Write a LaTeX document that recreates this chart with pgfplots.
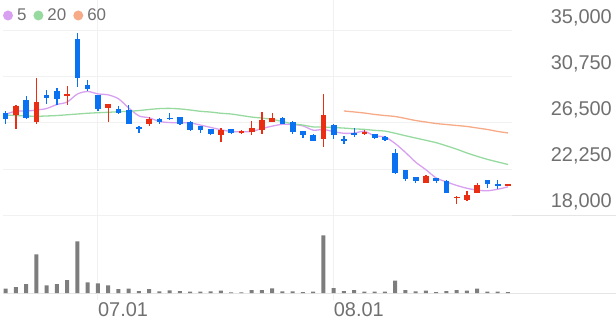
\documentclass[border=0pt]{standalone}
\usepackage{pgfplots}
\pgfplotsset{compat=1.18}
\usepackage{pgfplotstable}
\usepackage{fontspec}
\setmainfont{Liberation Sans}

\definecolor{gridc}{RGB}{241,241,241}
\definecolor{basec}{RGB}{229,229,229}
\definecolor{labelc}{RGB}{112,112,112}
\definecolor{upc}{RGB}{234,46,20}
\definecolor{downc}{RGB}{10,113,240}
\definecolor{volc}{RGB}{125,125,125}
\definecolor{ma5c}{RGB}{216,160,240}
\definecolor{ma20c}{RGB}{150,218,160}
\definecolor{ma60c}{RGB}{246,170,135}

\pgfplotstableread{
i o h l c
1 27250 28150 25900 28050
3 26550 30650 26450 28450
6 29050 29900 28150 29200
10 27850 28250 26550 28250
14 26450 27100 26200 26850
21 25400 26050 24750 25850
23 25600 25850 25450 25750
24 25700 26650 25400 26000
25 25850 27500 25450 26800
26 26600 27400 26600 26950
31 25000 29150 24250 27250
35 25550 25850 25350 25650
41 21000 21650 21000 21600
44 19600 19800 19000 19700
45 19350 20200 19250 19850
46 20050 20950 20000 20750
49 20750 20800 20750 20800
}\upcandles

\pgfplotstableread{
i o h l c
0 27400 27600 26450 26850
2 28650 28950 26850 27000
4 29050 29550 28300 28850
5 29450 29750 28150 28700
7 34250 34800 29850 30700
8 30050 30450 29500 29600
9 29050 29100 27650 27750
11 27800 28050 27300 27400
12 27700 28150 26400 26450
13 26100 26250 25550 25950
15 26850 26950 26400 26550
16 27000 27450 26750 26900
17 27050 27100 26350 26400
18 26600 26700 25800 25850
19 26250 26250 25600 25850
20 25900 25950 25400 25450
22 25900 25950 25450 25550
27 26950 27100 26400 26400
28 26600 26650 25450 25650
29 25800 25800 25150 25350
30 25350 25500 24850 24850
32 26350 26450 25000 25400
33 25050 25300 24600 24900
34 25600 26050 25200 25450
36 25450 25450 25050 25100
37 25200 25300 24850 24950
38 23750 24100 21800 21850
39 22150 22150 21150 21350
40 21550 21550 21000 21150
42 21400 21450 21000 21150
43 21100 21200 20000 20050
47 21250 21250 20500 20850
48 20850 21250 20400 20750
}\downcandles

\pgfplotstableread{
i v
0 27300
1 27600
2 27600
3 27700
4 27840
5 28210
6 28440
7 29180
8 29410
9 29190
10 29100
11 28740
12 27890
13 27160
14 26980
15 26640
16 26540
17 26530
18 26510
19 26310
20 26090
21 25880
22 25710
23 25690
24 25720
25 25990
26 26210
27 26380
28 26360
29 26230
30 25840
31 25900
32 25700
33 25550
34 25570
35 25730
36 25300
37 25210
38 24600
39 23780
40 22880
41 22180
42 21420
43 21060
44 20730
45 20470
46 20300
47 20240
48 20380
49 20600
}\mafive

\pgfplotstableread{
i v
0 27240
1 27190
2 27150
3 27120
4 27150
5 27190
6 27260
7 27330
8 27400
9 27450
10 27490
11 27540
12 27580
13 27650
14 27750
15 27830
16 27850
17 27800
18 27700
19 27580
20 27510
21 27400
22 27330
23 27190
24 27050
25 26955
26 26840
27 26630
28 26430
29 26310
30 26140
31 26130
32 26080
33 26030
34 25960
35 25910
36 25820
37 25750
38 25550
39 25325
40 25110
41 24900
42 24680
43 24390
44 24080
45 23730
46 23420
47 23140
48 22900
49 22670
}\matwenty

\pgfplotstableread{
i v
33 27610
34 27520
35 27420
36 27290
37 27190
38 27100
39 26920
40 26730
41 26590
42 26450
43 26360
44 26270
45 26180
46 26040
47 25900
48 25720
49 25580
}\masixty

\pgfplotstableread{
i v
0 4.3
1 6
2 9
3 38.7
4 7.7
5 9
6 13
7 51.7
8 10.7
9 9.7
10 7.7
11 4
12 4.3
13 2
14 4
15 1.7
16 2.7
17 2
18 1.3
19 1.3
20 1.7
21 2.3
22 0.7
23 0.7
24 3
25 3
26 4.7
27 1.7
28 1.7
29 1
30 1.3
31 57.7
32 5
33 2
34 3
35 1.3
36 1.3
37 1.3
38 12.3
39 3
40 1.7
41 2.3
42 1
43 2
44 3
45 2.3
46 4.3
47 1.3
48 1.3
49 1
}\volume

\begin{document}
\begin{tikzpicture}[x=1bp,y=1bp]
\useasboundingbox (0,0) rectangle (616,321);
\draw[basec, line width=1bp] (3,106) -- (616,106);
\draw[basec, line width=1bp] (3,28) -- (616,28);
\begin{axis}[
  at={(3bp,106bp)}, anchor=south west, scale only axis,
  width=509bp, height=215bp,
  xmin=-0.263, xmax=49.395, ymin=18000, ymax=37864,
  axis line style={draw=none}, tick style={draw=none},
  xtick={9,32}, xticklabels={}, xmajorgrids,
  ytick={18000,22250,26500,30750,35000},
  yticklabels={{18,000},{22,250},{26,500},{30,750},{35,000}},
  ymajorgrids,
  grid style={gridc, line width=1bp},
  yticklabel pos=right,
  yticklabel style={anchor=east, xshift=100bp, yshift=13bp, text=labelc,
    font=\fontsize{20}{22}\selectfont, inner sep=0pt},
  legend style={at={(axis description cs:0,0.928)}, anchor=west, draw=none, fill=none,
    inner sep=0pt, outer sep=0pt, legend columns=3,
    font=\fontsize{17}{19}\selectfont, text=labelc,
    /tikz/every odd column/.append style={column sep=3bp},
    /tikz/every even column/.append style={column sep=6bp},
    nodes={inner sep=1bp}},
  legend image code/.code={\fill[#1, draw=none] (5bp,0bp) circle (5bp);},
]
\addplot[color=ma5c, line width=1.3bp, smooth, mark=none] table[x=i, y=v] {\mafive};
\addlegendentry{5}
\addplot[color=ma20c, line width=1.3bp, smooth, mark=none] table[x=i, y=v] {\matwenty};
\addlegendentry{20}
\addplot[color=ma60c, line width=1.3bp, smooth, mark=none] table[x=i, y=v] {\masixty};
\addlegendentry{60}
% wicks
\addplot[draw=none, mark=none, forget plot,
  error bars/.cd, y dir=both, y explicit, error mark=none,
  error bar style={draw=upc, line width=1.2bp}]
  table[x=i, y expr={(\thisrow{h}+\thisrow{l})/2}, y error expr={max((\thisrow{h}-\thisrow{l})/2,46)}] {\upcandles};
\addplot[draw=none, mark=none, forget plot,
  error bars/.cd, y dir=both, y explicit, error mark=none,
  error bar style={draw=downc, line width=1.2bp}]
  table[x=i, y expr={(\thisrow{h}+\thisrow{l})/2}, y error expr={max((\thisrow{h}-\thisrow{l})/2,46)}] {\downcandles};
% bodies
\addplot[draw=none, mark=none, forget plot,
  error bars/.cd, y dir=both, y explicit, error mark=none,
  error bar style={draw=upc, line width=5.6bp}]
  table[x=i, y expr={(\thisrow{o}+\thisrow{c})/2}, y error expr={max(abs(\thisrow{o}-\thisrow{c})/2,50)}] {\upcandles};
\addplot[draw=none, mark=none, forget plot,
  error bars/.cd, y dir=both, y explicit, error mark=none,
  error bar style={draw=downc, line width=5.6bp}]
  table[x=i, y expr={(\thisrow{o}+\thisrow{c})/2}, y error expr={max(abs(\thisrow{o}-\thisrow{c})/2,50)}] {\downcandles};
\end{axis}
\begin{axis}[
  at={(3bp,21bp)}, anchor=south west, scale only axis,
  width=509bp, height=85bp,
  xmin=-0.263, xmax=49.395, ymin=-7, ymax=78,
  axis line style={draw=none}, tick style={draw=none},
  ytick=\empty,
  xtick={9,32}, xticklabels={07.01,08.01}, xmajorgrids,
  grid style={gridc, line width=1bp},
  xticklabel style={anchor=west, yshift=-10bp, text=labelc,
    font=\fontsize{20}{22}\selectfont, inner sep=0pt},
]
\addplot[ybar, bar width=4bp, bar shift=0pt, fill=volc, draw=none] table[x=i, y=v] {\volume};
\end{axis}
\end{tikzpicture}
\end{document}
